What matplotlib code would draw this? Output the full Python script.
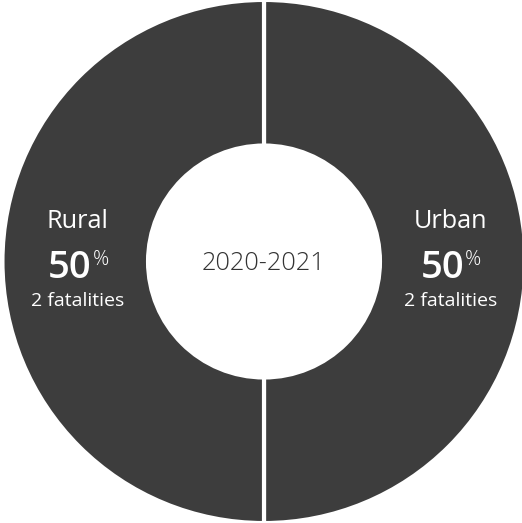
import matplotlib.pyplot as plt

plt.rcParams['font.family'] = ['Open Sans', 'DejaVu Sans']

# dados
categorias = ["Urban", "Rural"]
fatalidades = [2, 2]
periodo = "2020-2021"

total = sum(fatalidades)
percentuais = [round(100 * v / total) for v in fatalidades]

fig = plt.figure(figsize=(5.22, 5.23), dpi=100)
ax = fig.add_axes([0, 0, 1, 1])

cor = "#3d3d3d"
ax.pie(fatalidades, startangle=90, counterclock=False, colors=[cor, cor],
       radius=1.006,
       wedgeprops=dict(width=0.56, edgecolor="white", linewidth=3))

# centro (264, 261.5) em pixels, raio 260
ax.set_xlim(-264 / 260, (522 - 264) / 260)
ax.set_ylim(-261.5 / 260, 261.5 / 260)
ax.set_aspect("equal")
ax.axis("off")

ax.text(0, -0.033, periodo, ha="center", va="baseline", fontsize=18.3,
        fontweight="light", color="#333333")

# rotulos: Urban a direita, Rural a esquerda
posicoes = [0.716, -0.718]
for nome, pct, n, x in zip(categorias, percentuais, fatalidades, posicoes):
    ax.text(x, 0.129, nome, ha="center", va="baseline", fontsize=18.2,
            color="white")
    ax.text(x + 0.056, -0.063, str(pct), ha="right", va="baseline", fontsize=27.5,
            fontweight="semibold", color="white")
    ax.text(x + 0.058, -0.015, "%", ha="left", va="baseline", fontsize=14.5,
            fontweight="light", color="white")
    ax.text(x, -0.171, f"{n} fatalities", ha="center", va="baseline", fontsize=14,
            color="white")

plt.savefig("out.png", dpi=100, facecolor="white")
plt.close()
